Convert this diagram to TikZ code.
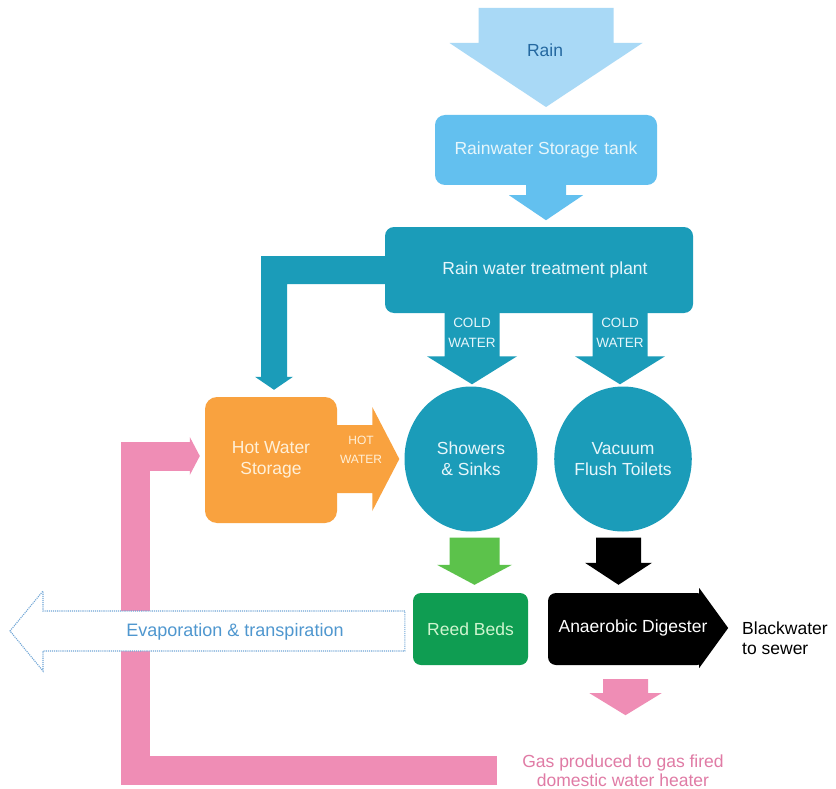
\documentclass[tikz,border=0pt]{standalone}
\usepackage{fontspec}
\setmainfont{Liberation Sans}
\usetikzlibrary{calc,shapes.geometric}
\definecolor{raincol}{HTML}{A9D9F6}
\definecolor{tankcol}{HTML}{63C0EF}
\definecolor{raintext}{HTML}{2468A0}
\definecolor{teal}{HTML}{1B9CB9}
\definecolor{orangecol}{HTML}{F9A23F}
\definecolor{pinkcol}{HTML}{EF8DB5}
\definecolor{greenarrow}{HTML}{5CC24B}
\definecolor{reedgreen}{HTML}{0F9D52}
\definecolor{evapcol}{HTML}{6FA5D6}
\definecolor{evaptext}{HTML}{4F97CF}
\definecolor{gastext}{HTML}{E07BA5}
\definecolor{lighttxt}{HTML}{E6F6FB}
\definecolor{hottxt}{HTML}{FFF0D8}
\definecolor{reedtxt}{HTML}{CFF5CF}
% down block arrow: #1 start (y), #2 tip (x,y), #3 half shaft, #4 half head, #5 head length, #6 style
\newcommand\blkdown[6]{\path[#6] let \p1=(#1), \p2=(#2) in
  (\x2-#3pt,\y1) -- (\x2+#3pt,\y1) -- (\x2+#3pt,\y2+#5pt) -- (\x2+#4pt,\y2+#5pt)
  -- (\x2,\y2) -- (\x2-#4pt,\y2+#5pt) -- (\x2-#3pt,\y2+#5pt) -- cycle;}
% right block arrow: #1 start (x), #2 tip (x,y)
\newcommand\blkright[6]{\path[#6] let \p1=(#1), \p2=(#2) in
  (\x1,\y2+#3pt) -- (\x2-#5pt,\y2+#3pt) -- (\x2-#5pt,\y2+#4pt) -- (\x2,\y2)
  -- (\x2-#5pt,\y2-#4pt) -- (\x2-#5pt,\y2-#3pt) -- (\x1,\y2-#3pt) -- cycle;}
% left block arrow: #1 start (x), #2 tip (x,y)
\newcommand\blkleft[6]{\path[#6] let \p1=(#1), \p2=(#2) in
  (\x1,\y2+#3pt) -- (\x2+#5pt,\y2+#3pt) -- (\x2+#5pt,\y2+#4pt) -- (\x2,\y2)
  -- (\x2+#5pt,\y2-#4pt) -- (\x2+#5pt,\y2-#3pt) -- (\x1,\y2-#3pt) -- cycle;}
\tikzset{
  big/.style={font=\fontsize{17.5}{21}\selectfont},
  small/.style={font=\fontsize{13.5}{20}\selectfont},
  boxbase/.style={rectangle, inner sep=0pt, align=center, big},
  tankbox/.style={boxbase, fill=tankcol, text=lighttxt, rounded corners=10pt, minimum width=222pt, minimum height=70pt},
  plantbox/.style={boxbase, fill=teal, text=lighttxt, rounded corners=9pt, minimum width=308pt, minimum height=86pt},
  hotbox/.style={boxbase, fill=orangecol, text=hottxt, rounded corners=12pt, minimum width=132pt, minimum height=126pt},
  usecircle/.style={ellipse, inner sep=0pt, fill=teal, text=lighttxt, align=center, big},
  reedbox/.style={boxbase, fill=reedgreen, text=reedtxt, rounded corners=8pt, minimum width=115pt, minimum height=72pt},
  anabox/.style={boxbase, fill=black, rounded corners=8pt, minimum width=157pt, minimum height=72pt},
  plain/.style={inner sep=0pt, align=center, big},
}
\begin{document}
\begin{tikzpicture}[x=1pt,y=-1pt]
\useasboundingbox (0,0) rectangle (836,789);
\fill[white] (0,0) rectangle (836,789);

% rain
\coordinate (raintop) at (546,8);
\coordinate (raintip) at (546,107);
\blkdown{raintop}{raintip}{67.5}{96.5}{64}{fill=raincol}
\node[plain, text=raintext] (raintext) at (545,50) {Rain};

% tank and plant
\node[tankbox] (tank) at (546,150) {Rainwater Storage tank};
\blkdown{tank.south}{$(tank.south)+(0,35)$}{20}{37}{25}{fill=tankcol}
\node[plantbox] (plant) at (539,270) {\hspace*{12pt}Rain water treatment plant};

% hot water storage and users
\node[hotbox] (hot) at (271,460) {Hot Water\\Storage};
\node[usecircle, minimum width=133pt, minimum height=145pt] (showers) at (471,459) {Showers\\\& Sinks};
\node[usecircle, minimum width=128pt, minimum height=145pt] (vacuum) at (623,459) {Vacuum\\Flush Toilets};

% branch from plant to hot water storage
\path[fill=teal] let \p1=(plant.west), \p2=($(hot.north)+(3,-7)$) in
  (\x1+4pt,\y1+14pt) -- (\x2-13pt,\y1+14pt) -- (\x2-13pt,\y2+13pt) -- (\x2-19pt,\y2+13pt)
  -- (\x2,\y2) -- (\x2+19pt,\y2+13pt) -- (\x2+13pt,\y2+13pt) -- (\x2+13pt,\y1-14pt)
  -- (\x1+4pt,\y1-14pt) -- cycle;

% cold water arrows
\blkdown{plant.south}{$(showers.north)+(1,-2)$}{27.5}{45}{28}{fill=teal}
\blkdown{plant.south}{$(vacuum.north)+(-3,-2)$}{27.5}{45}{28}{fill=teal}
\node[small, inner sep=0pt, align=center, text=lighttxt] (cold1) at (472,333) {COLD\\WATER};
\node[small, inner sep=0pt, align=center, text=lighttxt] (cold2) at (620,333) {COLD\\WATER};

% hot water arrow
\blkright{hot.east}{$(showers.west)+(-5,0)$}{34}{52}{27}{fill=orangecol}
\node[inner sep=0pt, align=center, text=hottxt, font=\fontsize{12}{19}\selectfont] (hotlbl) at (361,450) {HOT\\WATER};

% reed beds and digester
\node[reedbox] (reed) at (470.5,629) {Reed Beds};
\node[anabox] (anaero) at (626.5,629) {};
\node[plain, anchor=west, align=left, font=\fontsize{17.5}{20}\selectfont] (bw) at (742,638) {Blackwater\\to sewer};
\path[fill=black] let \p1=(anaero.east), \p2=(bw.west) in
  (\x1-6pt,\y1+41pt) -- (\x1+23pt,\y1+1pt) -- (\x1-6pt,\y1-39pt) -- cycle;
\node[plain, text=white] (anatext) at (633,628) {Anaerobic Digester};

\blkdown{$(showers.south)+(0,6)$}{$(reed.north)+(4,-8)$}{25}{37.5}{20}{fill=greenarrow}
\blkdown{$(vacuum.south)+(0,6)$}{$(anaero.north)+(-8,-8)$}{22.5}{33.5}{22}{fill=black}

% gas
\blkdown{$(anaero.south)+(0,14)$}{$(anaero.south)+(-1,50)$}{22.5}{36}{22}{fill=pinkcol}
\node[inner sep=0pt, align=center, text=gastext, font=\fontsize{17.5}{19}\selectfont] (gas) at (623,771) {Gas produced to gas fired\\domestic water heater};

% pink loop back to hot water storage
\coordinate (loopcorner) at (135,456);
\draw[pinkcol, line width=29pt, line join=miter] ($(gas.west)+(-25,-1)$) -| (loopcorner) -- ($(hot.west)+(-15,-4)$);
\path[fill=pinkcol] let \p1=($(hot.west)+(-5,-4)$) in
  (\x1,\y1) -- (\x1-10pt,\y1+19pt) -- (\x1-10pt,\y1-19pt) -- cycle;

% evaporation
\coordinate (evaptip) at (10,631);
\blkleft{$(reed.west)+(-8,0)$}{evaptip}{20}{40}{33}{fill=white, draw=evapcol, densely dotted, line width=1.1pt}
\node[plain, text=evaptext, font=\fontsize{18}{21}\selectfont] (evap) at (235,632) {Evaporation \& transpiration};
\end{tikzpicture}
\end{document}
